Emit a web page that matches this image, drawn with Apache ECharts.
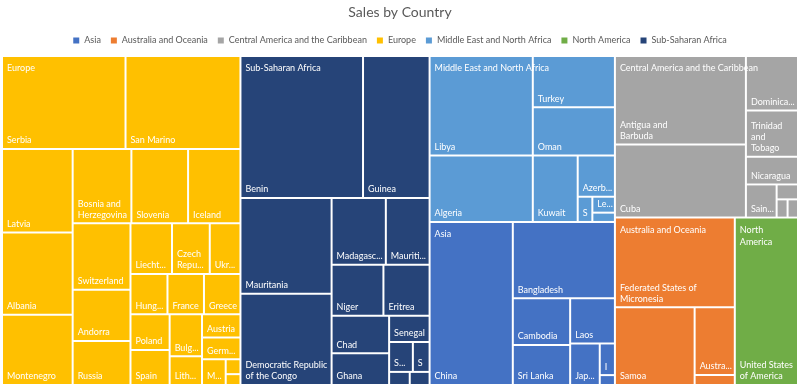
<!DOCTYPE html>
<html>
<head>
<meta charset="utf-8">
<script src="https://cdn.jsdelivr.net/npm/echarts@6/dist/echarts.min.js"></script>
<style>
html,body{margin:0;padding:0;background:#ffffff;}
#chart{width:800px;height:388px;}
</style>
</head>
<body>
<div id="chart"></div>
<script>
// ---- Data ----
const regions = ['Asia', 'Australia and Oceania', 'Central America and the Caribbean', 'Europe',
  'Middle East and North Africa', 'North America', 'Sub-Saharan Africa'];
const regionColors = ['#4472C4', '#ED7D31', '#A5A5A5', '#FFC000', '#5B9BD5', '#70AD47', '#264478'];

const asiaCountries = ['China', 'Bangladesh', 'Cambodia', 'Sri Lanka', 'Laos', 'Japan', 'India', 'Mongolia'];
const asiaSales = [1357, 780, 267, 230, 202, 123, 48, 15];

const oceaniaCountries = ['Federated States of Micronesia', 'Samoa', 'Australia', 'Fiji'];
const oceaniaSales = [1076, 619, 272, 40];

const caribbeanCountries = ['Antigua and Barbuda', 'Cuba', 'Dominican Republic', 'Trinidad and Tobago',
  'Nicaragua', 'Saint Lucia', 'Jamaica', 'Haiti', 'Dominica'];
const caribbeanSales = [1159, 958, 284, 241, 144, 102, 32, 20, 19];

const europeCountries = ['Serbia', 'San Marino', 'Latvia', 'Albania', 'Montenegro', 'Bosnia and Herzegovina',
  'Slovenia', 'Iceland', 'Switzerland', 'Andorra', 'Russia', 'Liechtenstein', 'Czech Republic', 'Ukraine',
  'Hungary', 'Greece', 'France', 'Poland', 'Spain', 'Bulgaria', 'Lithuania', 'Austria', 'Germany',
  'Macedonia', 'Estonia', 'Malta'];
const europeSales = [1150, 1070, 590, 580, 497, 435, 420, 388, 385, 296, 255, 211, 192, 156,
  149, 147, 147, 140, 137, 136, 93, 89, 84, 61, 22, 16];

const menaCountries = ['Libya', 'Algeria', 'Turkey', 'Oman', 'Kuwait', 'Azerbaijan', 'Syria', 'Lebanon', 'Qatar'];
const menaSales = [1028, 685, 421, 397, 298, 153, 37, 36, 21];

const northAmericaCountries = ['United States of America'];
const northAmericaSales = [1058];

const ssaCountries = ['Benin', 'Guinea', 'Mauritania', 'Democratic Republic of the Congo', 'Madagascar',
  'Mauritius', 'Niger', 'Eritrea', 'Chad', 'Ghana', 'Senegal', 'Somalia', 'Sudan', 'Mali', 'Comoros'];
const ssaSales = [1740, 945, 874, 831, 362, 292, 265, 236, 216, 182, 106, 71, 50, 27, 26];

// label line breaks as shown in the reference
const labelBreaks = {
  'Bosnia and Herzegovina': 'Bosnia and\nHerzegovina',
  'Democratic Republic of the Congo': 'Democratic Republic\nof the Congo',
  'Trinidad and Tobago': 'Trinidad\nand\nTobago',
  'Antigua and Barbuda': 'Antigua and\nBarbuda',
  'Federated States of Micronesia': 'Federated States of\nMicronesia',
  'United States of America': 'United States\nof America',
  'Czech Republic': 'Czech\nRepublic',
  'North America': 'North\nAmerica'
};

// ---- Build ----
const countryLists = [asiaCountries, oceaniaCountries, caribbeanCountries, europeCountries,
  menaCountries, northAmericaCountries, ssaCountries];
const salesLists = [asiaSales, oceaniaSales, caribbeanSales, europeSales,
  menaSales, northAmericaSales, ssaSales];

const treeData = regions.map((r, i) => ({
  name: r,
  itemStyle: { color: regionColors[i] },
  children: countryLists[i].map((c, j) => ({ name: c, value: salesLists[i][j] }))
}));
const regionTotals = salesLists.map(arr => arr.reduce((a, b) => a + b, 0));

const FONT = 'Lato';
const fmt = p => labelBreaks[p.name] || p.name;
const box = { left: 3, top: 57, right: 3, bottom: 4 };
const SQ = 1.05;

const chart = echarts.init(document.getElementById('chart'), null, { renderer: 'canvas' });
chart.setOption({
  animation: false,
  backgroundColor: '#ffffff',
  title: {
    text: 'Sales by Country',
    left: 'center',
    top: 5,
    padding: 0,
    textStyle: { fontFamily: FONT, fontSize: 14, fontWeight: 'normal', color: '#595959' }
  },
  legend: {
    data: regions,
    top: 31,
    left: 'center',
    icon: 'rect',
    itemWidth: 6,
    itemHeight: 6,
    itemGap: 10,
    selectedMode: false,
    textStyle: { fontFamily: FONT, fontSize: 9, color: '#595959' }
  },
  series: [
    {
      type: 'treemap',
      name: 'Sales',
      ...box,
      squareRatio: SQ,
      roam: false,
      nodeClick: false,
      silent: true,
      breadcrumb: { show: false },
      label: {
        show: true,
        position: 'insideBottomLeft',
        distance: 0,
        padding: [0, 0, 2, 4],
        color: '#ffffff',
        fontFamily: FONT,
        fontSize: 9,
        lineHeight: 11,
        overflow: 'truncate',
        ellipsis: '...',
        formatter: fmt
      },
      levels: [
        { itemStyle: { borderWidth: 0, gapWidth: 2, borderColor: '#ffffff' } },
        { itemStyle: { borderWidth: 0, gapWidth: 2, borderColor: '#ffffff' } },
        { itemStyle: { borderWidth: 0, borderColor: '#ffffff' } }
      ],
      data: treeData
    },
    {
      type: 'treemap',
      name: 'Regions',
      ...box,
      z: 5,
      squareRatio: SQ,
      roam: false,
      nodeClick: false,
      silent: true,
      breadcrumb: { show: false },
      label: {
        show: true,
        position: 'insideTopLeft',
        distance: 0,
        padding: [5, 0, 0, 4],
        color: '#ffffff',
        fontFamily: FONT,
        fontSize: 9,
        lineHeight: 12,
        overflow: 'truncate',
        formatter: fmt
      },
      levels: [
        { itemStyle: { borderWidth: 0, gapWidth: 2, borderColor: 'rgba(0,0,0,0)' } },
        { itemStyle: { borderWidth: 0, borderColor: 'rgba(0,0,0,0)', color: 'rgba(0,0,0,0)' } }
      ],
      data: regions.map((r, i) => ({ name: r, value: regionTotals[i], itemStyle: { color: 'rgba(0,0,0,0)' } }))
    },
    {
      type: 'pie',
      name: 'legendProxy',
      radius: [0, 0],
      center: [-50, -50],
      silent: true,
      label: { show: false },
      labelLine: { show: false },
      data: regions.map((r, i) => ({ name: r, value: regionTotals[i], itemStyle: { color: regionColors[i] } }))
    }
  ]
});
</script>
</body>
</html>
